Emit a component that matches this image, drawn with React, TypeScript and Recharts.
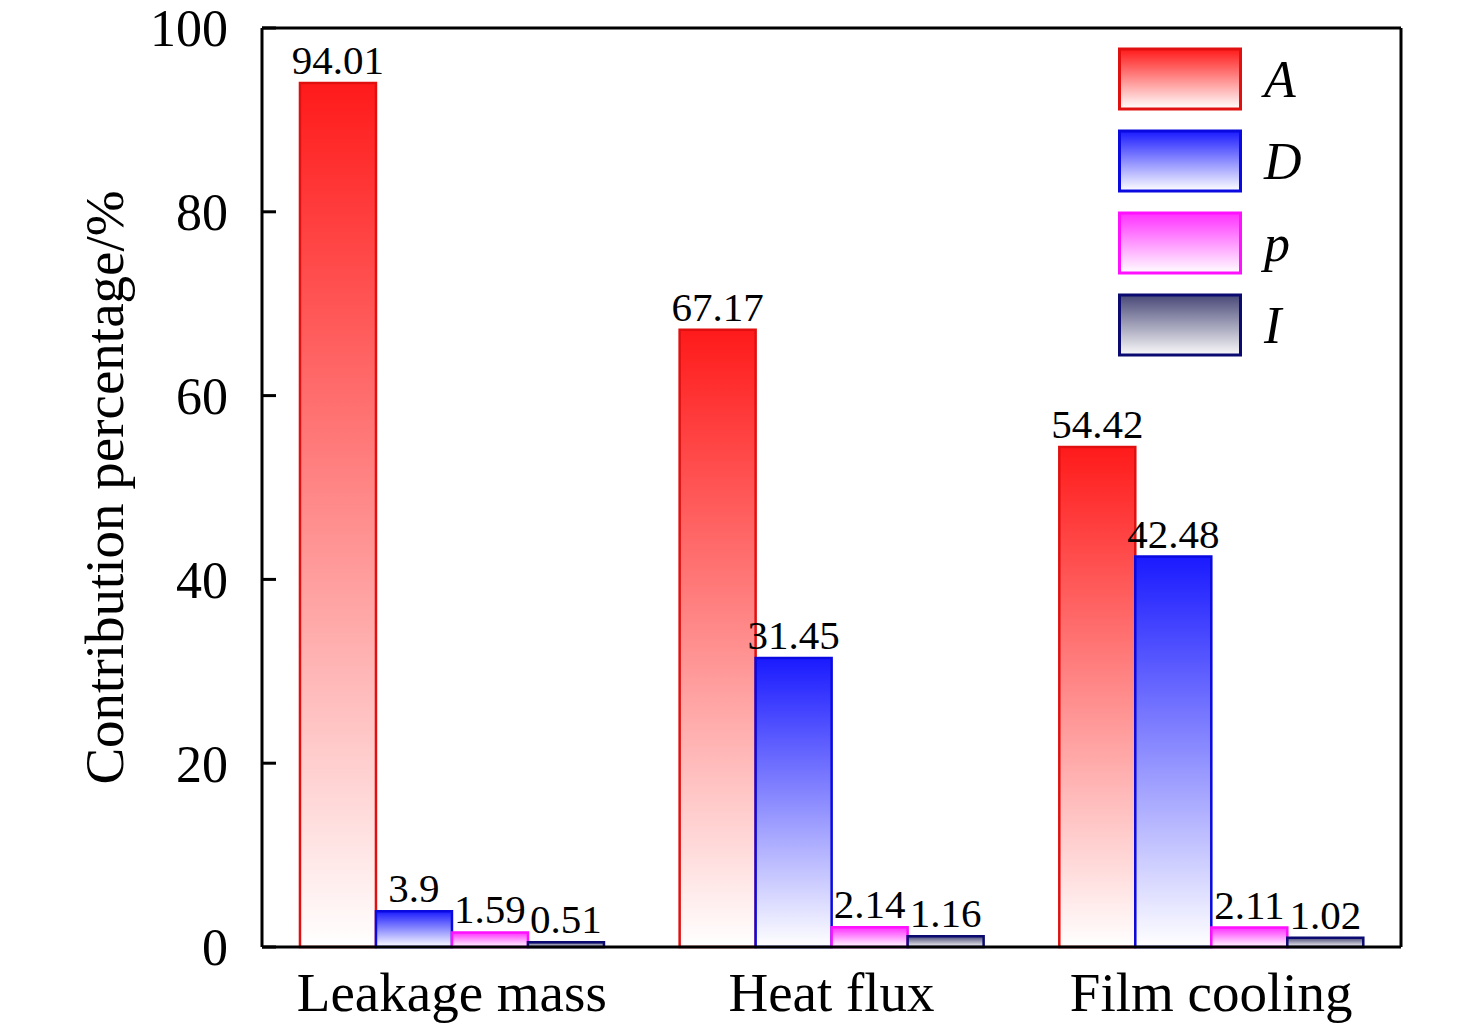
import React from "react";
import { BarChart, Bar, XAxis, YAxis, LabelList, Legend, Label } from "recharts";

const categories = ["Leakage mass", "Heat flux", "Film cooling"];
const seriesA = [94.01, 67.17, 54.42];
const seriesD = [3.9, 31.45, 42.48];
const seriesP = [1.59, 2.14, 2.11];
const seriesI = [0.51, 1.16, 1.02];
const yTicks = [0, 20, 40, 60, 80, 100];

const series = [
  { key: "A", name: "A", stroke: "#e01010", top: "#ff1a1a", bottom: "#ffffff" },
  { key: "D", name: "D", stroke: "#0a0ae0", top: "#1a1aff", bottom: "#ffffff" },
  { key: "p", name: "p", stroke: "#ff10ff", top: "#ff30ff", bottom: "#ffffff" },
  { key: "I", name: "I", stroke: "#0a0a70", top: "#484878", bottom: "#fafafa" },
];

const data = categories.map((c, i) => ({
  category: c,
  A: seriesA[i],
  D: seriesD[i],
  p: seriesP[i],
  I: seriesI[i],
}));

const FONT = "'Liberation Serif', 'Times New Roman', serif";

const LegendContent = () => (
  <svg width={300} height={320} style={{ display: "block" }}>
    {series.map((s, i) => {
      const y = 2 + i * 82;
      return (
        <g key={s.key}>
          <rect x={1.5} y={y} width={121} height={60} fill={`url(#grad-${s.key})`} stroke={s.stroke} strokeWidth={3} />
          <text
            x={146}
            y={y + 30}
            dominantBaseline="central"
            fontFamily={FONT}
            fontStyle="italic"
            fontSize={52}
            fill="#000"
          >
            {s.name}
          </text>
        </g>
      );
    })}
  </svg>
);

const YTitle = (props: any) => {
  const vb = props.viewBox || {};
  const cx = 96;
  const cy = (vb.y ?? 0) + (vb.height ?? 0) / 2;
  return (
    <text
      x={cx}
      y={cy}
      transform={`rotate(-90, ${cx}, ${cy})`}
      textAnchor="middle"
      dominantBaseline="central"
      fontFamily={FONT}
      fontSize={55}
      fill="#000"
    >
      Contribution percentage/%
    </text>
  );
};

export default function App() {
  return (
    <div style={{ width: 1460, height: 1021, background: "#fff" }}>
      <BarChart
        width={1460}
        height={1021}
        data={data}
        margin={{ top: 19, right: 66, bottom: 0, left: 0 }}
        barCategoryGap="10%"
        barGap={0}
      >
        <defs>
          {series.map((s) => (
            <linearGradient key={s.key} id={`grad-${s.key}`} x1="0" y1="0" x2="0" y2="1">
              <stop offset="0%" stopColor={s.top} />
              <stop offset="100%" stopColor={s.bottom} />
            </linearGradient>
          ))}
        </defs>
        <XAxis
          dataKey="category"
          height={82}
          tickLine={false}
          tickSize={0}
          tickMargin={25}
          axisLine={{ stroke: "#000", strokeWidth: 3 }}
          tick={{ fontFamily: FONT, fontSize: 55, fill: "#000" }}
          interval={0}
        />
        <XAxis
          xAxisId="top"
          orientation="top"
          dataKey="category"
          height={1}
          tick={false}
          tickLine={false}
          axisLine={{ stroke: "#000", strokeWidth: 3 }}
        />
        <YAxis
          width={254}
          domain={[0, 100]}
          ticks={yTicks}
          interval={0}
          tickSize={-14}
          tickMargin={48}
          tickLine={{ stroke: "#000", strokeWidth: 3 }}
          axisLine={{ stroke: "#000", strokeWidth: 3 }}
          tick={{ fontFamily: FONT, fontSize: 52, fill: "#000" }}
        >
          <Label content={<YTitle />} />
        </YAxis>
        <YAxis
          yAxisId="right"
          orientation="right"
          width={1}
          domain={[0, 100]}
          tick={false}
          tickLine={false}
          axisLine={{ stroke: "#000", strokeWidth: 3 }}
        />
        <Legend
          layout="vertical"
          align="center"
          verticalAlign="middle"
          content={<LegendContent />}
          wrapperStyle={{ position: "absolute", left: 1110, top: 39, width: 300, height: 320 }}
        />
        {series.map((s) => (
          <Bar
            key={s.key}
            dataKey={s.key}
            name={s.name}
            fill={`url(#grad-${s.key})`}
            stroke={s.stroke}
            strokeWidth={2.5}
            isAnimationActive={false}
          >
            <LabelList
              dataKey={s.key}
              position="top"
              offset={9}
              style={{ fontFamily: FONT, fontSize: 41, fill: "#000" }}
            />
          </Bar>
        ))}
      </BarChart>
    </div>
  );
}
